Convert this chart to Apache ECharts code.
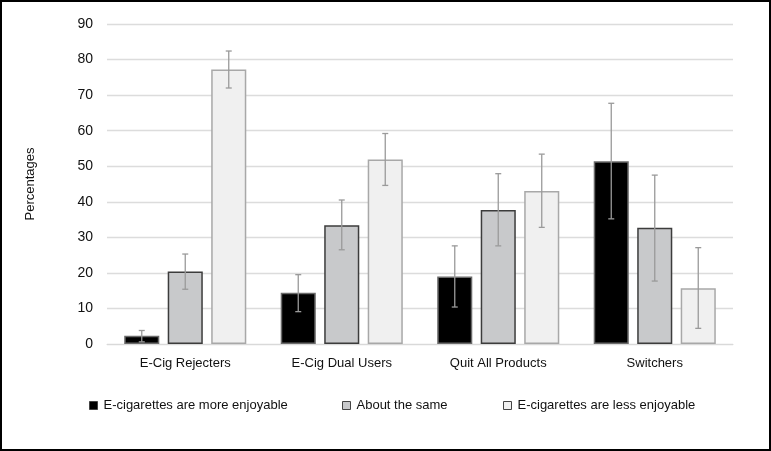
<!DOCTYPE html>
<html>
<head>
<meta charset="utf-8">
<script src="https://cdn.jsdelivr.net/npm/echarts@6/dist/echarts.min.js"></script>
<style>
html,body{margin:0;padding:0;background:#fff;}
#chart{width:771px;height:451px;}
</style>
</head>
<body>
<div id="chart"></div>
<script>
const categories = ['E-Cig Rejecters', 'E-Cig Dual Users', 'Quit All Products', 'Switchers'];
const seriesNames = ['E-cigarettes are more enjoyable', 'About the same', 'E-cigarettes are less enjoyable'];
const moreEnjoyable = [2.3, 14.4, 19.0, 51.4];
const moreLow = [0.6, 9.1, 10.4, 35.2];
const moreHigh = [3.8, 19.5, 27.6, 67.7];
const aboutSame = [20.4, 33.4, 37.7, 32.7];
const sameLow = [15.4, 26.5, 27.6, 17.7];
const sameHigh = [25.3, 40.5, 47.9, 47.5];
const lessEnjoyable = [77.2, 51.9, 43.0, 15.7];
const lessLow = [72.0, 44.6, 32.8, 4.4];
const lessHigh = [82.4, 59.2, 53.4, 27.1];
const yTicks = [0, 10, 20, 30, 40, 50, 60, 70, 80, 90];

const FONT = "'Liberation Sans Narrow', 'Arial Narrow', 'Liberation Sans', Arial, sans-serif";
const values = [moreEnjoyable, aboutSame, lessEnjoyable];
const lows = [moreLow, sameLow, lessLow];
const highs = [moreHigh, sameHigh, lessHigh];
const fills = ['#000000', '#c8c9cb', '#f0f0f0'];
const borders = ['#6a6a6a', '#3c3c3c', '#a8a8a8'];
const CAT_GAP = 0.22, BAR_GAP = 0.24;

function errSeries(idx) {
  return {
    type: 'custom',
    z: 10,
    silent: true,
    data: categories.map((c, i) => [i, lows[idx][i], highs[idx][i]]),
    renderItem: function (params, api) {
      const ci = api.value(0);
      const lo = api.coord([ci, api.value(1)]);
      const hi = api.coord([ci, api.value(2)]);
      const catW = api.size([1, 0])[0];
      const usable = catW * (1 - CAT_GAP);
      const bw = usable / (3 + 2 * BAR_GAP);
      const off = (idx - 1) * bw * (1 + BAR_GAP);
      const x = lo[0] + off;
      const cap = 3;
      const st = { stroke: '#9a9a9a', lineWidth: 1.3 };
      return {
        type: 'group',
        children: [
          { type: 'line', shape: { x1: x, y1: lo[1], x2: x, y2: hi[1] }, style: st },
          { type: 'line', shape: { x1: x - cap, y1: lo[1], x2: x + cap, y2: lo[1] }, style: st },
          { type: 'line', shape: { x1: x - cap, y1: hi[1], x2: x + cap, y2: hi[1] }, style: st }
        ]
      };
    }
  };
}

const barSeries = seriesNames.map((n, k) => ({
  name: n,
  type: 'bar',
  data: values[k],
  barCategoryGap: (CAT_GAP * 100) + '%',
  barGap: (BAR_GAP * 100) + '%',
  itemStyle: { color: fills[k], borderColor: borders[k], borderWidth: 1.5 }
}));

const legendLefts = [84, 337, 498];
const legends = seriesNames.map((n, k) => ({
  data: [n],
  left: legendLefts[k],
  top: 394,
  itemWidth: 8,
  itemHeight: 8,
  icon: 'rect',
  itemStyle: { borderColor: '#444', borderWidth: 1 },
  textStyle: { fontFamily: FONT, fontSize: 13, color: '#111', padding: [0, 0, 0, 1] },
  selectedMode: false
}));

const chart = echarts.init(document.getElementById('chart'), null, { renderer: 'canvas' });
chart.setOption({
  animation: false,
  backgroundColor: '#fff',
  grid: { left: 107, right: 38, top: 24, bottom: 107 },
  legend: legends,
  xAxis: {
    type: 'category',
    data: categories,
    axisTick: { show: false },
    axisLine: { lineStyle: { color: '#d9d9d9', width: 1 } },
    axisLabel: { fontFamily: FONT, fontSize: 13, color: '#111', margin: 13 }
  },
  yAxis: {
    type: 'value',
    min: yTicks[0],
    max: yTicks[yTicks.length - 1],
    interval: 10,
    name: 'Percentages',
    nameLocation: 'middle',
    nameRotate: 90,
    nameGap: 70,
    nameTextStyle: { fontFamily: FONT, fontSize: 13, color: '#111' },
    axisLine: { show: false },
    axisTick: { show: false },
    splitLine: { lineStyle: { color: '#dcdcdc', width: 1.3 } },
    axisLabel: { fontFamily: FONT, fontSize: 14, color: '#111', margin: 14 }
  },
  graphic: [{
    type: 'rect',
    shape: { x: 1, y: 1, width: 769, height: 449 },
    style: { fill: 'none', stroke: '#000', lineWidth: 2 },
    silent: true
  }],
  series: barSeries.concat([errSeries(0), errSeries(1), errSeries(2)])
});
</script>
</body>
</html>
